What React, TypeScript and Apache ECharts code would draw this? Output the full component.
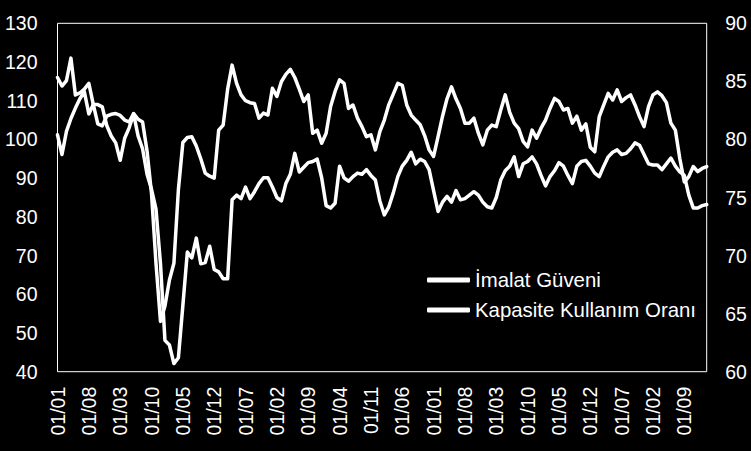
import React, { useEffect, useRef } from "react";
import * as echarts from "echarts";

// Monthly series, Jan 2007 .. Feb 2019
const START_YEAR = 2007;
const N_MONTHS = 146;

const imalatGuveni: number[] = [
  116, 113.8, 115.2, 121, 111.5, 112, 113, 114.5, 109, 104,
  103.5, 106, 106.5, 106.7, 106.2, 105, 104.5, 106.7, 105.2, 104.5,
  97, 86, 68, 53, 57, 63.7, 68, 87, 99.2, 100.5,
  100.7, 98.3, 95, 91.3, 90.5, 90, 102.4, 103.7, 113, 119.2,
  114.5, 111.5, 110, 109.5, 109.3, 105.5, 106.8, 106.3, 113.2, 111.1,
  114.9, 116.8, 118.1, 116, 113, 109.8, 111.5, 101.6, 102.4, 99,
  101.6, 108.5, 112.4, 115.4, 114.5, 108, 108.9, 105.5, 103.3, 100.7,
  101.2, 97.3, 102, 105, 109, 111.7, 114.5, 114, 108.9, 106.3,
  105, 103.8, 101, 97.3, 95.6, 100.7, 106, 110.5, 113.6, 110.5,
  108, 104.2, 104.2, 105.5, 101.6, 98.6, 102.4, 103.7, 103.3, 107.6,
  111.5, 107, 104.2, 102.8, 99.5, 98.1, 102.4, 100.3, 102.9, 105,
  108, 110.6, 109.8, 107.6, 108, 104.2, 106, 102.4, 104, 98,
  96.8, 105.9, 108.9, 111.9, 110.2, 112.8, 109.8, 110.8, 111.5, 108.9,
  105.9, 103.3, 108.5, 111.5, 112.3, 111.3, 109.5, 104.2, 102.4, 95,
  89, 90.4, 93, 91.7, 92.5, 93,
];

const kapasiteKullanim: number[] = [
  80.4, 78.7, 80.7, 81.8, 82.7, 83.5, 84.1, 82.2, 83.0, 83.0,
  82.8, 81.2, 80.3, 79.7, 78.2, 80.1, 81.0, 82.2, 80.3, 79.2,
  77.0, 75.7, 74.0, 69.3, 62.7, 62.3, 60.7, 61.2, 65.7, 70.3,
  69.8, 71.5, 69.3, 69.4, 70.8, 68.8, 68.6, 68.0, 68.0, 74.8,
  75.2, 74.9, 75.9, 74.9, 75.5, 76.2, 76.7, 76.7, 75.9, 75.0,
  74.7, 76.2, 77.0, 78.8, 77.2, 77.6, 78.0, 78.1, 78.3, 76.7,
  74.3, 74.1, 74.5, 77.7, 76.7, 76.4, 76.8, 77.1, 77.0, 77.4,
  76.9, 76.5, 74.7, 73.5, 74.2, 75.4, 76.8, 77.7, 78.2, 78.9,
  77.9, 78.3, 78.1, 77.4, 75.6, 73.8, 74.6, 75.1, 74.6, 75.6,
  74.8, 74.9, 75.2, 75.5, 75.2, 74.6, 74.2, 74.1, 75.0, 76.5,
  77.3, 77.7, 78.5, 76.8, 77.9, 78.1, 78.5, 77.9, 76.9, 76.0,
  76.8, 77.3, 78.0, 77.7, 76.9, 76.2, 77.7, 78.1, 78.2, 77.7,
  77.1, 76.8, 77.7, 78.5, 78.9, 79.1, 78.7, 78.8, 79.2, 79.7,
  79.5, 78.7, 77.9, 77.8, 77.8, 77.4, 77.9, 78.4, 77.7, 77.2,
  76.9, 75.2, 74.1, 74.1, 74.3, 74.4,
];

const leftTicks = { min: 40, max: 130, interval: 10 };
const rightTicks = { min: 60, max: 90, interval: 5 };

const categories: string[] = [];
for (let k = 0; k < N_MONTHS; k++) {
  const m = (k % 12) + 1;
  categories.push("01/" + (m < 10 ? "0" + m : String(m)));
}
void START_YEAR;

const FONT = "'Liberation Sans', Arial, sans-serif";

export default function App() {
  const ref = useRef<HTMLDivElement>(null);
  useEffect(() => {
    document.body.style.margin = "0";
    document.body.style.background = "#000";
    const chart = echarts.init(ref.current!, null, { renderer: "svg" });
    chart.setOption({
      animation: false,
      backgroundColor: "#000",
      textStyle: { fontFamily: FONT },
      grid: {
        left: 57.5,
        right: 44.3,
        top: 23.3,
        bottom: 79.3,
        show: true,
        borderColor: "#ffffff",
        borderWidth: 1,
        backgroundColor: "transparent",
      },
      legend: {
        orient: "vertical",
        left: 427,
        top: 270,
        padding: 0,
        icon: "roundRect",
        itemWidth: 43,
        itemHeight: 5,
        itemGap: 10,
        itemStyle: { color: "#ffffff", borderWidth: 0 },
        textStyle: { color: "#ffffff", fontSize: 20.4, lineHeight: 20, fontFamily: FONT },
        data: ["İmalat Güveni", "Kapasite Kullanım Oranı"],
      },
      xAxis: {
        type: "category",
        data: categories,
        boundaryGap: false,
        axisLine: { show: false },
        axisTick: { show: false },
        splitLine: { show: false },
        axisLabel: {
          interval: 6,
          rotate: 90,
          margin: 15,
          color: "#ffffff",
          fontSize: 19.5,
          fontFamily: FONT,
        },
      },
      yAxis: [
        {
          type: "value",
          min: leftTicks.min,
          max: leftTicks.max,
          interval: leftTicks.interval,
          axisLine: { show: false },
          axisTick: { show: false },
          splitLine: { show: false },
          axisLabel: { margin: 20, color: "#ffffff", fontSize: 19.5, fontFamily: FONT },
        },
        {
          type: "value",
          position: "right",
          min: rightTicks.min,
          max: rightTicks.max,
          interval: rightTicks.interval,
          axisLine: { show: false },
          axisTick: { show: false },
          splitLine: { show: false },
          axisLabel: { margin: 18.5, color: "#ffffff", fontSize: 19.5, fontFamily: FONT },
        },
      ],
      series: [
        {
          name: "İmalat Güveni",
          type: "line",
          yAxisIndex: 0,
          data: imalatGuveni,
          symbol: "none",
          lineStyle: { color: "#ffffff", width: 3.5, cap: "round", join: "round" },
          itemStyle: { color: "#ffffff" },
        },
        {
          name: "Kapasite Kullanım Oranı",
          type: "line",
          yAxisIndex: 1,
          data: kapasiteKullanim,
          symbol: "none",
          lineStyle: { color: "#ffffff", width: 3.5, cap: "round", join: "round" },
          itemStyle: { color: "#ffffff" },
        },
      ],
    });
    return () => chart.dispose();
  }, []);
  return <div ref={ref} style={{ width: 751, height: 451 }} />;
}
